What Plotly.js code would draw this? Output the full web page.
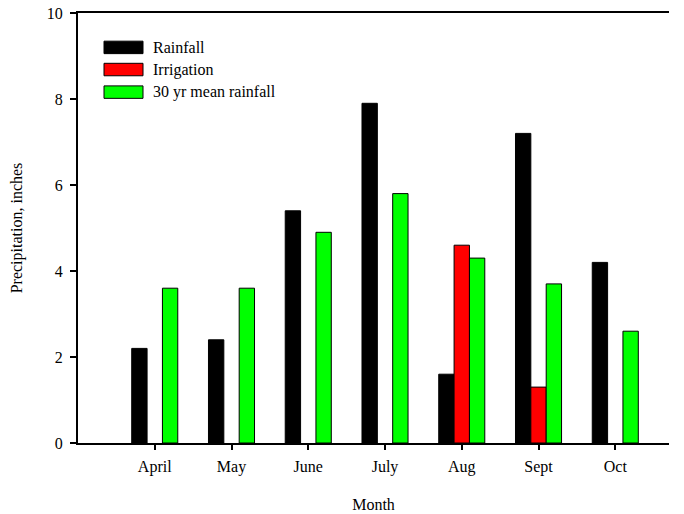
<!DOCTYPE html>
<html>
<head>
<meta charset="utf-8">
<script src="https://cdn.plot.ly/plotly-3.0.1.min.js"></script>
<style>html,body{margin:0;padding:0;background:#fff;}#chart{width:684px;height:514px;}</style>
</head>
<body>
<div id="chart"></div>
<script>
var months = ["April", "May", "June", "July", "Aug", "Sept", "Oct"];
var rainfall = [2.2, 2.4, 5.4, 7.9, 1.6, 7.2, 4.2];
var irrigation = [null, null, null, null, 4.6, 1.3, null];
var meanRainfall = [3.6, 3.6, 4.9, 5.8, 4.3, 3.7, 2.6];
var yTicks = [0, 2, 4, 6, 8, 10];
var seriesNames = ["Rainfall", "Irrigation", "30 yr mean rainfall"];
var seriesColors = ["#000000", "#ff0000", "#00ff00"];

var font = {family: "Liberation Serif", size: 16, color: "#000"};

var data = [rainfall, irrigation, meanRainfall];
var traces = data.map(function (vals, i) {
  return {type: "bar", name: seriesNames[i], x: months, y: vals,
          marker: {color: seriesColors[i], line: {color: "#000000", width: 1}}};
});

// custom legend (wide swatches like the original)
var shapes = [], annotations = [];
var legY = [0.92, 0.8685, 0.816];
seriesNames.forEach(function (n, i) {
  shapes.push({type: "rect", xref: "paper", yref: "paper",
               x0: 0.044, x1: 0.110, y0: legY[i] - 0.0145, y1: legY[i] + 0.0145,
               fillcolor: seriesColors[i], line: {color: "#000", width: 1}});
  annotations.push({xref: "paper", yref: "paper", x: 0.124, y: legY[i],
                    xanchor: "left", yanchor: "middle", text: n, showarrow: false, font: font});
});

var layout = {
  width: 684, height: 514,
  margin: {l: 78, r: 15, t: 13, b: 71},
  paper_bgcolor: "#fff", plot_bgcolor: "#fff",
  font: font,
  barmode: "group",
  bargap: 0.4,
  bargroupgap: 0,
  showlegend: false,
  shapes: shapes,
  annotations: annotations,
  xaxis: {
    type: "category",
    range: [-1, 6.7],
    showgrid: false, zeroline: false,
    showline: true, linecolor: "#000", linewidth: 2, mirror: true,
    ticks: "outside", ticklen: 5, tickwidth: 2, tickcolor: "#000",
    ticklabelstandoff: 3,
    title: {text: "Month", font: font, standoff: 24},
    tickfont: font
  },
  yaxis: {
    range: [0, 10],
    tickvals: yTicks,
    ticktext: yTicks.map(String),
    showgrid: false, zeroline: false,
    showline: true, linecolor: "#000", linewidth: 2,
    ticks: "outside", ticklen: 6, tickwidth: 2, tickcolor: "#000",
    ticklabelstandoff: 4,
    title: {text: "Precipitation, inches", font: font, standoff: 20},
    tickfont: font
  }
};

Plotly.newPlot("chart", traces, layout, {displayModeBar: false, staticPlot: true});
</script>
</body>
</html>
